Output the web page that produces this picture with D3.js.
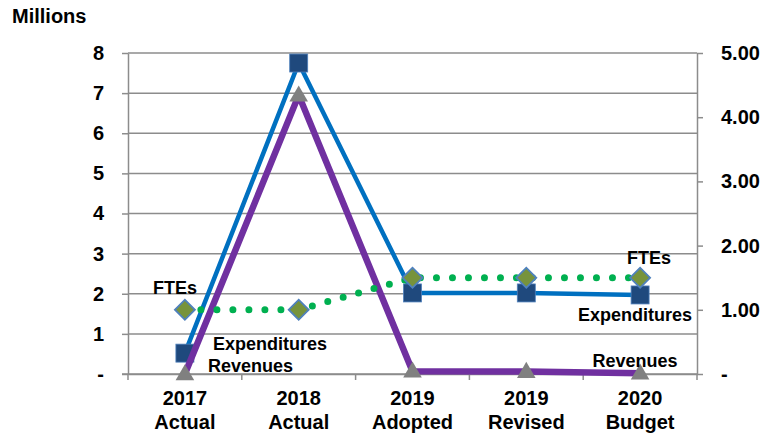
<!DOCTYPE html>
<html>
<head>
<meta charset="utf-8">
<script src="https://cdn.jsdelivr.net/npm/d3@7/dist/d3.min.js"></script>
<style>
    body { margin: 0; background: #fff; }
    text { font-family: 'Liberation Sans', Arial, sans-serif; font-weight: bold; fill: #000; }
</style>
</head>
<body>
<script>

const categories = [['2017', 'Actual'], ['2018', 'Actual'], ['2019', 'Adopted'], ['2019', 'Revised'], ['2020', 'Budget']]
const expenditures = [0.52, 7.75, 2.02, 2.02, 1.97]
const revenues = [0.0, 6.95, 0.07, 0.06, 0.02]
const ftes = [1.0, 1.0, 1.5, 1.5, 1.5]
const leftTicks = [0, 1, 2, 3, 4, 5, 6, 7, 8]
const rightTicks = [0, 1, 2, 3, 4, 5]

const w = 780
const h = 436
const margin = { top: 53, right: 83, bottom: 62, left: 128 }

const svg = d3.select('body')
    .append('svg')
        .attr('width', w)
        .attr('height', h)

const keys = categories.map(c => c.join(' '))

const xScale = d3.scaleBand()
    .domain(keys)
    .range([margin.left, w - margin.right])

const yLeft = d3.scaleLinear()
    .domain([0, 8])
    .range([h - margin.bottom, margin.top])

const yRight = d3.scaleLinear()
    .domain([0, 5])
    .range([h - margin.bottom, margin.top])

const cx = i => xScale(keys[i]) + xScale.bandwidth() / 2

// Gridlines
svg.append('g')
    .selectAll('line')
    .data(leftTicks)
    .enter()
    .append('line')
        .attr('x1', margin.left)
        .attr('x2', w - margin.right)
        .attr('y1', d => yLeft(d))
        .attr('y2', d => yLeft(d))
        .attr('stroke', '#8c8c8c')
        .attr('stroke-width', 1.5)

// Axes
const styleAxis = g => {
    g.select('.domain').attr('stroke', '#8c8c8c').attr('stroke-width', 1.5)
    g.selectAll('.tick line').attr('stroke', '#8c8c8c').attr('stroke-width', 1.5)
    g.selectAll('text').attr('font-size', 20).attr('font-family', null)
}

svg.append('g')
    .attr('transform', `translate(${margin.left}, 0)`)
    .call(d3.axisLeft(yLeft).tickValues(leftTicks).tickSize(6).tickSizeOuter(0).tickPadding(18)
        .tickFormat(d => d === 0 ? '-' : d))
    .call(styleAxis)

svg.append('g')
    .attr('transform', `translate(${w - margin.right}, 0)`)
    .call(d3.axisRight(yRight).tickValues(rightTicks).tickSize(6).tickSizeOuter(0).tickPadding(18)
        .tickFormat(d => d === 0 ? '-' : d3.format('.2f')(d)))
    .call(styleAxis)

const xAxis = svg.append('g')
    .attr('transform', `translate(0, ${h - margin.bottom})`)
    .call(d3.axisBottom(xScale).tickSize(0).tickSizeOuter(0).tickFormat(''))
    .call(styleAxis)

// boundary ticks on the category axis
xAxis.selectAll('.bound')
    .data(d3.range(keys.length + 1))
    .enter()
    .append('line')
        .attr('x1', i => margin.left + i * xScale.step())
        .attr('x2', i => margin.left + i * xScale.step())
        .attr('y1', 0)
        .attr('y2', 6)
        .attr('stroke', '#8c8c8c')
        .attr('stroke-width', 1.5)

xAxis.append('line')
    .attr('x1', margin.left - 6)
    .attr('x2', margin.left)
    .attr('stroke', '#8c8c8c')
    .attr('stroke-width', 1.5)

const catLabels = svg.append('g')
    .selectAll('text')
    .data(categories)
    .enter()
    .append('text')
        .attr('text-anchor', 'middle')
        .attr('font-size', 20)
        .attr('x', (d, i) => cx(i))

catLabels.append('tspan').attr('x', (d, i) => cx(i)).attr('y', h - 31).text(d => d[0])
catLabels.append('tspan').attr('x', (d, i) => cx(i)).attr('y', h - 7).text(d => d[1])

svg.append('text')
    .attr('x', 12)
    .attr('y', 23)
    .attr('font-size', 20)
    .text('Millions')

// Expenditures
const expLine = d3.line().x((d, i) => cx(i)).y(d => yLeft(d))
svg.append('path')
    .attr('d', expLine(expenditures))
    .attr('fill', 'none')
    .attr('stroke', '#0070c0')
    .attr('stroke-width', 4.5)
    .attr('stroke-linejoin', 'round')

svg.selectAll('.exp-marker')
    .data(expenditures)
    .enter()
    .append('rect')
        .attr('class', 'exp-marker')
        .attr('x', (d, i) => cx(i) - 9)
        .attr('y', d => yLeft(d) - 9)
        .attr('width', 18)
        .attr('height', 18)
        .attr('fill', '#1f497d')
        .attr('stroke', '#4f81bd')
        .attr('stroke-width', 0.8)

// Revenues
const revLine = d3.line().x((d, i) => cx(i)).y(d => yLeft(d))
svg.append('path')
    .attr('d', revLine(revenues))
    .attr('fill', 'none')
    .attr('stroke', '#7030a0')
    .attr('stroke-width', 6.5)
    .attr('stroke-linejoin', 'round')

svg.selectAll('.rev-marker')
    .data(revenues)
    .enter()
    .append('path')
        .attr('class', 'rev-marker')
        .attr('d', d3.symbol().type(d3.symbolTriangle).size(150))
        .attr('transform', (d, i) => `translate(${cx(i)}, ${yLeft(d) + 1})`)
        .attr('fill', '#808080')

// FTEs
const fteLine = d3.line().x((d, i) => cx(i)).y(d => yRight(d))
svg.append('path')
    .attr('d', fteLine(ftes))
    .attr('fill', 'none')
    .attr('stroke', '#00b050')
    .attr('stroke-width', 7)
    .attr('stroke-linecap', 'round')
    .attr('stroke-dasharray', '0 16')

svg.selectAll('.fte-marker')
    .data(ftes)
    .enter()
    .append('path')
        .attr('class', 'fte-marker')
        .attr('d', d3.symbol().type(d3.symbolSquare).size(200))
        .attr('transform', (d, i) => `translate(${cx(i)}, ${yRight(d)}) rotate(45)`)
        .attr('fill', '#77933c')
        .attr('stroke', '#4f81bd')
        .attr('stroke-width', 1.8)

// Data labels
const labels = [
    { text: 'FTEs', i: 0, y: yRight(ftes[0]), dx: -10, dy: -16, anchor: 'middle' },
    { text: 'FTEs', i: 4, y: yRight(ftes[4]), dx: 9, dy: -14, anchor: 'middle' },
    { text: 'Expenditures', i: 0, y: yLeft(expenditures[0]), dx: 28, dy: -3, anchor: 'start' },
    { text: 'Expenditures', i: 4, y: yLeft(expenditures[4]), dx: 52, dy: 26, anchor: 'end' },
    { text: 'Revenues', i: 0, y: yLeft(revenues[0]), dx: 23, dy: -2, anchor: 'start' },
    { text: 'Revenues', i: 4, y: yLeft(revenues[4]), dx: -5, dy: -6, anchor: 'middle' }
]

svg.selectAll('.data-label')
    .data(labels)
    .enter()
    .append('text')
        .attr('class', 'data-label')
        .attr('x', d => cx(d.i) + d.dx)
        .attr('y', d => d.y + d.dy)
        .attr('text-anchor', d => d.anchor)
        .attr('font-size', 18)
        .text(d => d.text)

</script>
</body>
</html>
